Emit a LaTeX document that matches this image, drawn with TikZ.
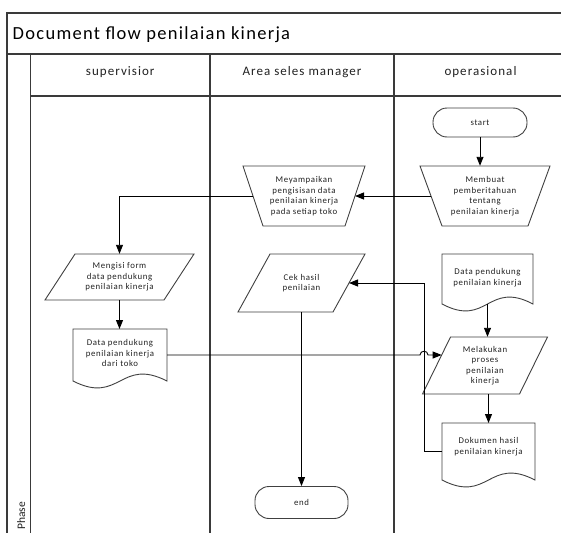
\documentclass[tikz,border=0pt]{standalone}
\usepackage{fontspec}
\setmainfont{Carlito}
\newfontfamily\titlefont[LetterSpace=7]{Carlito}
\newfontfamily\lanefont[LetterSpace=8]{Carlito}
\newfontfamily\boxfont[LetterSpace=7]{Carlito}
\usetikzlibrary{arrows.meta,calc}

\definecolor{framegray}{HTML}{3A3A3A}
\definecolor{shapegray}{HTML}{404040}
\definecolor{inkgray}{HTML}{222222}

\tikzset{
  frameline/.style={draw=framegray, line width=1.3pt},
  shapeline/.style={draw=shapegray, line width=0.9pt},
  boxtext/.style={inner sep=0pt, align=center, text=inkgray,
    font=\boxfont\fontsize{8.8}{10.5}\selectfont},
  lanelabel/.style={anchor=base, inner sep=0pt, text=inkgray,
    font=\lanefont\fontsize{13}{15}\selectfont},
  terminal/.style={boxtext, shapeline, rectangle, rounded corners=14pt},
  flow/.style={draw=black, line width=0.9pt},
  flowarrow/.style={flow, -{Triangle[width=7pt,length=9pt]}},
}

% manual operation: name, cx, cy, top width, bottom width, height, text
\newcommand\manop[7]{%
  \node[boxtext, minimum width=#4pt, minimum height=#6pt] (#1) at (#2,#3) {#7};
  \coordinate (#1-l) at ({#2-(#4+#5)/4},#3);
  \coordinate (#1-r) at ({#2+(#4+#5)/4},#3);
  \draw[shapeline] ({#2-#4/2},{#3-#6/2}) -- ({#2+#4/2},{#3-#6/2})
    -- ({#2+#5/2},{#3+#6/2}) -- ({#2-#5/2},{#3+#6/2}) -- cycle;
}

% data (parallelogram): name, cx, cy, edge width, slant, height, text
\newcommand\dataio[7]{%
  \node[boxtext, minimum width=#4pt, minimum height=#6pt] (#1) at (#2,#3) {#7};
  \coordinate (#1-tl) at ({#2-#4/2+#5/2},{#3-#6/2});
  \coordinate (#1-tr) at ({#2+#4/2+#5/2},{#3-#6/2});
  \coordinate (#1-br) at ({#2+#4/2-#5/2},{#3+#6/2});
  \coordinate (#1-bl) at ({#2-#4/2-#5/2},{#3+#6/2});
  \coordinate (#1-r) at ({#2+#4/2},#3);
  \draw[shapeline] (#1-tl) -- (#1-tr) -- (#1-br) -- (#1-bl) -- cycle;
}

% document: name, cx, top, width, side height, text centre y, text
\newcommand\docshape[7]{%
  \node[boxtext, minimum width=#4pt] (#1) at (#2,#6) {#7};
  \coordinate (#1-t) at (#2,#3);
  \coordinate (#1-l) at ({#2-#4/2},{#3+#5/2});
  \coordinate (#1-r) at ({#2+#4/2},{#3+#5/2});
  \coordinate (#1-b) at (#2,{#3+#5});
  \draw[shapeline] ({#2-#4/2},#3) -- ({#2+#4/2},#3) -- ({#2+#4/2},{#3+#5})
    .. controls (#2,{#3+#5-24}) and (#2,{#3+#5+24}) .. ({#2-#4/2},{#3+#5}) -- cycle;
}

\begin{document}
\begin{tikzpicture}[x=1pt, y=-1pt]
  \useasboundingbox (0,0) rectangle (561,532);
  \clip (0,0) rectangle (561,532);
  \fill[white] (0,0) rectangle (561,532);

  % pool frame, title bar, phase column and lanes
  \draw[frameline] (7,600) -- (7,13) -- (600,13);
  \draw[frameline] (7,54) -- (600,54);
  \draw[frameline] (30.5,54) -- (30.5,600);
  \draw[frameline] (30.5,96) -- (600,96);
  \draw[frameline] (210,54) -- (210,600);
  \draw[frameline] (394,54) -- (394,600);

  \node[anchor=base west, inner sep=0pt, text=black,
        font=\titlefont\fontsize{18.5}{20}\selectfont] (title) at (12.5,39.5)
        {Document flow penilaian kinerja};
  \node[lanelabel] (laneA) at (120.25,76) {supervisior};
  \node[lanelabel] (laneB) at (302,76) {Area seles manager};
  \node[lanelabel] (laneC) at (480.5,76) {operasional};
  \node[anchor=base, inner sep=0pt, text=inkgray, rotate=90,
        font=\fontsize{11.5}{13}\selectfont] (phase) at (25,516) {Phase};

  % shapes
  \node[terminal, minimum width=94pt, minimum height=29pt] (start) at (480,122.5) {start};
  \manop{mem}{485}{196}{130}{86}{60}{Membuat\\pemberitahuan\\tentang\\penilaian kinerja}
  \manop{mey}{304}{196}{122}{82}{60}{Meyampaikan\\pengisisan data\\penilaian kinerja\\pada setiap toko}
  \dataio{men}{119.5}{277}{119}{30}{46}{Mengisi form\\data pendukung\\penilaian kinerja}
  \docshape{d1}{120}{329}{94}{52}{353}{Data pendukung\\penilaian kinerja\\dari toko}
  \dataio{cek}{301.5}{283}{95}{32}{58}{Cek hasil\\penilaian}
  \docshape{d2}{487.5}{254}{91}{50}{277.5}{Data pendukung\\penilaian kinerja}
  \dataio{mel}{485}{365.5}{97}{28}{57}{Melakukan\\proses\\penilaian\\kinerja}
  \docshape{dok}{488.5}{423}{93}{57}{446.5}{Dokumen hasil\\penilaian kinerja}
  \node[terminal, minimum width=93pt, minimum height=32pt] (end) at (301.5,502.5) {end};

  % connectors
  \coordinate (loopc) at (424,283);
  \coordinate (hopA) at ($(d1-r -| loopc)+(-4,0)$);
  \coordinate (hopB) at ($(d1-r -| loopc)+(4,0)$);
  \coordinate (melIn) at (intersection of d1-r--hopB and mel-tl--mel-bl);

  \draw[flowarrow] (start.south) -- (start.south |- mem.north);
  \draw[flowarrow] (mem-l) -- (mey-r);
  \draw[flowarrow] (mey-l) -| (men.north);
  \draw[flowarrow] (men.south) -- (men.south |- d1-t);
  \draw[flowarrow] (d1-r) -- (hopA) .. controls +(0,-5) and +(0,-5) .. (hopB) -- (melIn);
  \draw[flowarrow] (d2-b) -- (d2-b |- mel.north);
  \draw[flowarrow] (mel.south -| dok-t) -- (dok-t);
  \draw[flowarrow] (dok-l) -| (loopc) -- (cek-r);
  \draw[flowarrow] (cek.south) -- (cek.south |- end.north);
\end{tikzpicture}
\end{document}
